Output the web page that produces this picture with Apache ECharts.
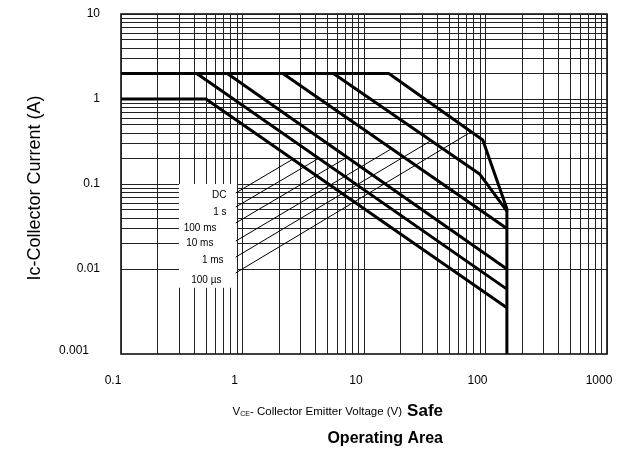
<!DOCTYPE html>
<html>
<head>
<meta charset="utf-8">
<script src="https://cdn.jsdelivr.net/npm/echarts@6/dist/echarts.min.js"></script>
<style>
  html, body { margin: 0; background: #fff; }
  #chart { width: 622px; height: 454px; }
</style>
</head>
<body>
<div id="chart"></div>
<script>
/* Safe operating area, log-log */
const xTicks = ['0.1', '1', '10', '100', '1000'];
const yTicks = ['0.001', '0.01', '0.1', '1', '10'];
const mantissas = [1, 2, 3, 4, 5, 6, 7, 8, 9];
const xDecades = [0.1, 1, 10, 100];
const yDecades = [0.001, 0.01, 0.1, 1];

// curves, [V, A]
const soaDC    = [[0.1, 1], [0.5, 1], [150, 0.0035]];
const soa1s    = [[0.1, 2], [0.42, 2], [150, 0.0058]];
const soa100ms = [[0.1, 2], [0.75, 2], [150, 0.01]];
const soa10ms  = [[0.1, 2], [2.15, 2], [150, 0.03]];
const soa1ms   = [[0.1, 2], [5.6, 2], [90, 0.13], [150, 0.048]];
const soa100us = [[0.1, 2], [16, 2], [95, 0.33], [150, 0.051], [150, 0.001]];

// pulse legend: names, text anchors, leader lines
const pulseNames = ['DC', '1 s', '100 ms', '10 ms', '1 ms', '100 µs'];
const labelAnchor = [[0.745, 0.0743], [0.745, 0.0469], [0.617, 0.0304], [0.582, 0.0202], [0.705, 0.0128], [0.677, 0.0074]];
const leaderStart = [[0.88, 0.0784], [0.88, 0.0536], [0.88, 0.0348], [0.88, 0.0213], [0.88, 0.0138], [0.88, 0.009]];
const leaderEnd = [[2.58, 0.195], [4.22, 0.2], [7.24, 0.206], [16.7, 0.258], [34.9, 0.318], [76, 0.41]];
const legendBox = [[0.3, 0.1], [0.9, 0.006]];

const chart = echarts.init(document.getElementById('chart'));
const plain = "'Liberation Sans', Arial, sans-serif";

const gridLines = [];
xDecades.forEach(d => mantissas.forEach(m => gridLines.push({ xAxis: +(d * m).toPrecision(3) })));
gridLines.push({ xAxis: 1000 });
yDecades.forEach(d => mantissas.forEach(m => gridLines.push({ yAxis: +(d * m).toPrecision(3) })));
gridLines.push({ yAxis: 10 });

const leaders = [];
leaderStart.forEach((p, i) => { leaders.push(p, leaderEnd[i], null); });

const thick = (name, data) => ({
  name, type: 'line', data, z: 4, showSymbol: false, symbol: 'none', silent: true,
  lineStyle: { color: '#000', width: 3 }
});

chart.setOption({
  animation: false,
  title: {
    text: 'V{s|CE}- Collector Emitter Voltage (V){b|Safe}\n{o|Operating Area}',
    right: 174, top: 393,
    textStyle: {
      fontFamily: plain, fontSize: 11.5, fontWeight: 'normal', color: '#000', lineHeight: 27,
      rich: {
        s: { fontFamily: plain, fontSize: 7, padding: [5, 0, 0, 0], lineHeight: 27 },
        b: { fontFamily: plain, fontSize: 17, fontWeight: 'bold', color: '#000', lineHeight: 27, padding: [0, 0, 0, 5] },
        o: { fontFamily: plain, fontSize: 16, fontWeight: 'bold', color: '#000', lineHeight: 27, align: 'right' }
      }
    }
  },
  grid: { left: 121, right: 15, top: 14, bottom: 100, show: true, borderColor: '#000', borderWidth: 1.5 },
  xAxis: {
    type: 'log', logBase: 10, min: 0.1, max: 1000,
    axisLine: { show: false }, axisTick: { show: false }, splitLine: { show: false },
    axisLabel: {
      color: '#000', fontFamily: plain, fontSize: 12, margin: 21, padding: [0, 16, 0, 0],
      formatter: v => xTicks[Math.round(Math.log10(v)) + 1]
    }
  },
  yAxis: {
    type: 'log', logBase: 10, min: 0.001, max: 10,
    name: 'Ic-Collector Current (A)', nameLocation: 'middle', nameGap: 77,
    nameTextStyle: { color: '#000', fontFamily: plain, fontSize: 18, padding: [0, 8, 0, 0] },
    axisLine: { show: false }, axisTick: { show: false }, splitLine: { show: false },
    axisLabel: {
      color: '#000', fontFamily: plain, fontSize: 12, margin: 21,
      formatter: v => {
        const t = yTicks[Math.round(Math.log10(v)) + 3];
        return t === '0.001' ? '{lo|' + t + '}' : t;
      },
      rich: { lo: { fontFamily: plain, fontSize: 12, color: '#000', padding: [0, 11, 6, 0] } }
    }
  },
  series: [
    {
      name: 'grid', type: 'line', data: [], z: 1, silent: true,
      markLine: {
        z: 1, silent: true, symbol: 'none', label: { show: false },
        lineStyle: { color: '#222', width: 1, type: 'solid' },
        data: gridLines
      }
    },
    {
      name: 'leaders', type: 'line', data: leaders, z: 3, showSymbol: false, symbol: 'none',
      silent: true, connectNulls: false, lineStyle: { color: '#000', width: 1 },
      markArea: {
        z: 2, silent: true, itemStyle: { color: '#fff', opacity: 1 },
        data: [[{ coord: legendBox[0] }, { coord: legendBox[1] }]]
      }
    },
    {
      name: 'labels', type: 'scatter', z: 6, symbolSize: 1, silent: true,
      itemStyle: { color: 'rgba(0,0,0,0)' },
      data: labelAnchor.map((p, i) => ({ value: p, name: pulseNames[i] })),
      label: {
        show: true, position: 'left', distance: 0, formatter: '{b}', opacity: 1,
        color: '#000', fontFamily: plain, fontSize: 10
      }
    },
    thick('DC', soaDC),
    thick('1 s', soa1s),
    thick('100 ms', soa100ms),
    thick('10 ms', soa10ms),
    thick('1 ms', soa1ms),
    thick('100 µs', soa100us)
  ]
});
window.addEventListener('resize', () => chart.resize());
</script>
</body>
</html>
